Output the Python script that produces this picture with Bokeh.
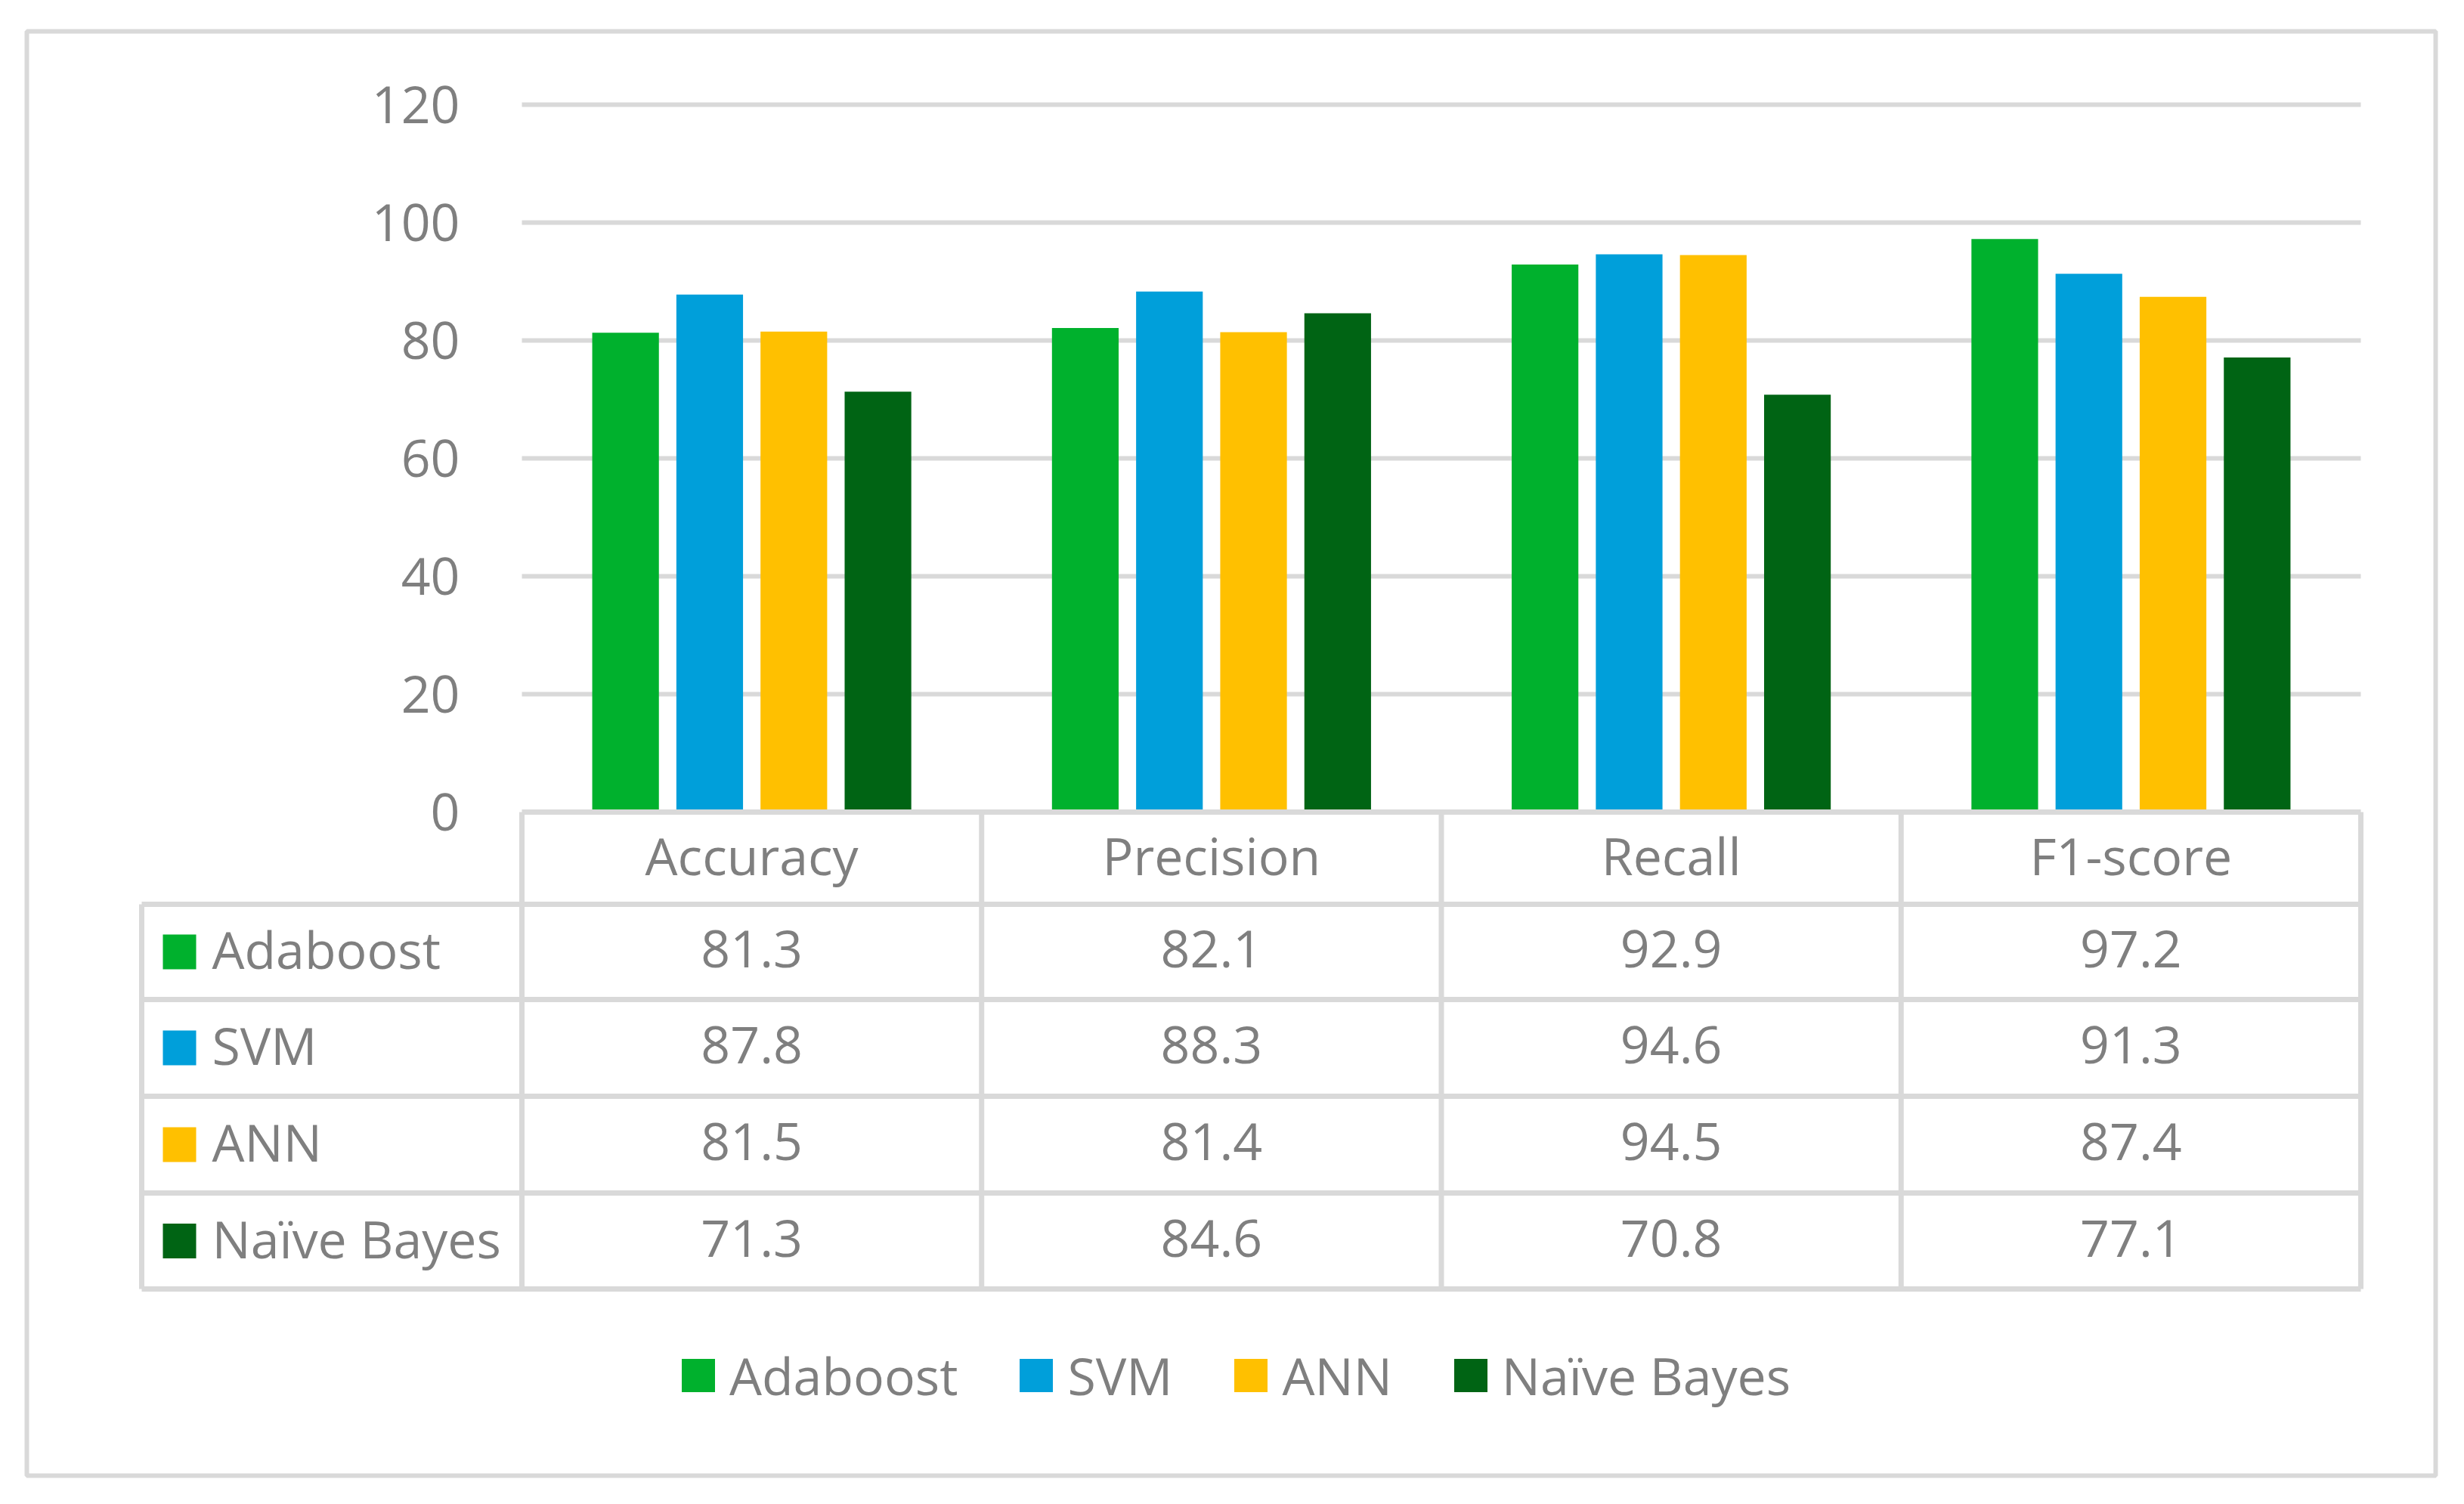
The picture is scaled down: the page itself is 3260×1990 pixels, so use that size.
from bokeh.plotting import figure
from bokeh.models import Range1d, LinearAxis, FixedTicker, Legend, LegendItem
from bokeh.core.properties import value
from bokeh.embed import file_html
from bokeh.resources import INLINE

# ---------------- data ----------------
categories = ["Accuracy", "Precision", "Recall", "F1-score"]
series_names = ["Adaboost", "SVM", "ANN", "Naïve Bayes"]
adaboost = [81.3, 82.1, 92.9, 97.2]
svm = [87.8, 88.3, 94.6, 91.3]
ann = [81.5, 81.4, 94.5, 87.4]
naive_bayes = [71.3, 84.6, 70.8, 77.1]
y_ticks = [0, 20, 40, 60, 80, 100, 120]

series_values = [adaboost, svm, ann, naive_bayes]
colors = ["#00B12D", "#009FDA", "#FFC000", "#006414"]
TEXT = "#7f7f7f"
LINE = "#d9d9d9"
FONT = value("Open Sans")
FS = "68px"

# ---------------- layout (canvas pixels) ----------------
W, H = 3244, 1974
PX_X0, PX_UNIT_X = 690.0, 608.25   # x of plot-area left edge, px per category
PX_Y0, PX_UNIT_Y = 1074.0, 7.8      # y of value 0, px per value unit
TXT_LIFT = 4                        # small upward nudge for table texts


def dx(cx):
    return (cx - PX_X0) / PX_UNIT_X


def dy(cy):
    return (PX_Y0 - cy) / PX_UNIT_Y


p = figure(width=W, height=H, x_range=Range1d(dx(0), dx(W)), y_range=Range1d(dy(H), dy(0)),
           output_backend="svg", toolbar_location=None, min_border=0,
           x_axis_type=None, y_axis_type=None)
p.outline_line_color = None
p.background_fill_color = "white"
p.border_fill_color = "white"

ncat = len(categories)

# outer chart border
p.quad(left=[dx(35)], right=[dx(3222)], top=[dy(41)], bottom=[dy(1952)],
       fill_color=None, line_color=LINE, line_width=6)

# gridlines at the axis ticks
for t in y_ticks[1:]:
    p.segment(x0=[0], x1=[ncat], y0=[t], y1=[t], line_color=LINE, line_width=6)

# y axis drawn at the plot-area left edge
yaxis = LinearAxis(fixed_location=0, ticker=FixedTicker(ticks=y_ticks))
yaxis.axis_line_color = None
yaxis.major_tick_line_color = None
yaxis.minor_tick_line_color = None
yaxis.major_label_standoff = 76
yaxis.major_label_text_font = "Open Sans"
yaxis.major_label_text_font_size = FS
yaxis.major_label_text_color = TEXT
p.add_layout(yaxis, "left")

# bars
bar_w = 0.145
step = 0.183
renderers = []
for i, (name, vals) in enumerate(zip(series_names, series_values)):
    off = (i - (len(series_names) - 1) / 2) * step
    r = p.vbar(x=[k + 0.5 + off for k in range(ncat)], top=vals, bottom=0, width=bar_w,
               fill_color=colors[i], line_color=None)
    renderers.append(r)

# data table
row_lines = [1074, 1196, 1322, 1450, 1578, 1705]
left_col = 187
# header top line (plot area only)
p.segment(x0=[0], x1=[ncat], y0=[dy(row_lines[0])], y1=[dy(row_lines[0])], line_color=LINE, line_width=7)
for yl in row_lines[1:]:
    p.segment(x0=[dx(left_col)], x1=[ncat], y0=[dy(yl)], y1=[dy(yl)], line_color=LINE, line_width=7)
for k in range(ncat + 1):
    p.segment(x0=[k], x1=[k], y0=[dy(row_lines[0])], y1=[dy(row_lines[-1])], line_color=LINE, line_width=7)
p.segment(x0=[dx(left_col)], x1=[dx(left_col)], y0=[dy(row_lines[1])], y1=[dy(row_lines[-1])],
          line_color=LINE, line_width=7)

# header labels
hc = (row_lines[0] + row_lines[1]) / 2 - TXT_LIFT
p.text(x=[k + 0.5 for k in range(ncat)], y=[dy(hc)] * ncat, text=categories,
       text_align="center", text_baseline="middle", text_font=FONT, text_font_size=FS, text_color=TEXT)

# rows
for i, (name, vals) in enumerate(zip(series_names, series_values)):
    rc = (row_lines[i + 1] + row_lines[i + 2]) / 2
    p.rect(x=[dx(237)], y=[dy(rc)], width=44, height=46, width_units="screen", height_units="screen",
           fill_color=colors[i], line_color=None)
    p.text(x=[dx(280)], y=[dy(rc - TXT_LIFT)], text=[name], text_align="left", text_baseline="middle",
           text_font=FONT, text_font_size=FS, text_color=TEXT)
    p.text(x=[k + 0.5 for k in range(ncat)], y=[dy(rc - TXT_LIFT)] * ncat, text=[f"{v:.1f}" for v in vals],
           text_align="center", text_baseline="middle", text_font=FONT, text_font_size=FS, text_color=TEXT)

# bottom legend
legend = Legend(items=[LegendItem(label=n, renderers=[r]) for n, r in zip(series_names, renderers)],
                orientation="horizontal", location=(896, 108))
legend.glyph_width = 55
legend.glyph_height = 55
legend.label_standoff = 14
legend.spacing = 76
legend.padding = 0
legend.margin = 0
legend.border_line_color = None
legend.background_fill_alpha = 0
legend.label_text_font = "Open Sans"
legend.label_text_font_size = FS
legend.label_text_color = TEXT
p.add_layout(legend)

open("out.html", "w").write(file_html(p, INLINE))
